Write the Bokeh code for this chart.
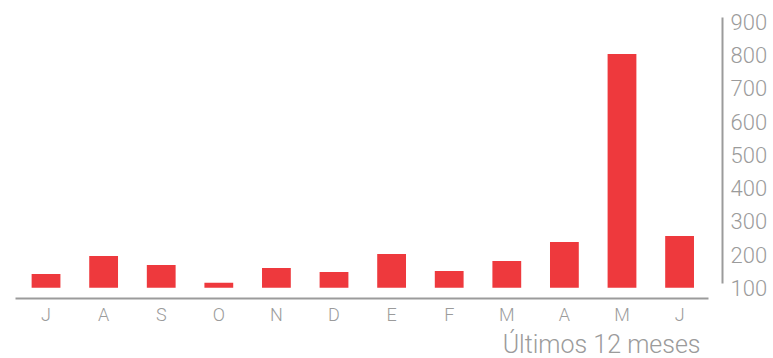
from bokeh.plotting import figure
from bokeh.models import Range1d, LinearAxis, FixedTicker, Title
from bokeh.embed import file_html
from bokeh.resources import INLINE

months = ["J", "A", "S", "O", "N", "D", "E", "F", "M", "A", "M", "J"]
counts = [142, 196, 169, 115, 160, 148, 202, 151, 181, 238, 803, 256]
y_ticks = [100, 200, 300, 400, 500, 600, 700, 800, 900]
baseline = 100
x_title = "Últimos 12 meses"

xs = [i + 0.5 for i in range(len(months))]

BAR = "#EE393D"
GREY = "#9B9B9B"
FONT = "Roboto Light"

p = figure(frame_width=707, frame_height=281, output_backend="svg", toolbar_location=None,
           x_range=Range1d(-0.03, 12.245), y_range=Range1d(68, 913),
           min_border_left=15, min_border_top=17, min_border_right=0, min_border_bottom=0,
           y_axis_location=None)
p.outline_line_color = None
p.xgrid.visible = False
p.ygrid.visible = False

p.vbar(x=xs, top=counts, bottom=baseline, width=0.5, fill_color=BAR, line_color=None)

xa = p.xaxis[0]
xa.ticker = FixedTicker(ticks=xs)
xa.major_label_overrides = {x: m for x, m in zip(xs, months)}
xa.bounds = (-0.03, 12.0)
xa.axis_line_color = GREY
xa.axis_line_width = 2
xa.major_tick_out = 0
xa.major_tick_in = 0
xa.minor_tick_out = 0
xa.minor_tick_in = 0
xa.major_label_text_font = FONT
xa.major_label_text_font_size = "18px"
xa.major_label_text_color = GREY
xa.major_label_standoff = 5

ya = LinearAxis(ticker=FixedTicker(ticks=y_ticks), bounds=(112, 913))
ya.axis_line_color = GREY
ya.axis_line_width = 2
ya.major_tick_out = 0
ya.major_tick_in = 0
ya.minor_tick_out = 0
ya.minor_tick_in = 0
ya.major_label_text_font = FONT
ya.major_label_text_font_size = "22px"
ya.major_label_text_color = GREY
ya.major_label_standoff = 8
p.add_layout(ya, "right")

p.add_layout(Title(text=x_title, align="right", offset=22, standoff=0,
                   text_font=FONT, text_font_size="25px", text_font_style="normal",
                   text_color=GREY), "below")

open("out.html", "w").write(file_html(p, INLINE))
